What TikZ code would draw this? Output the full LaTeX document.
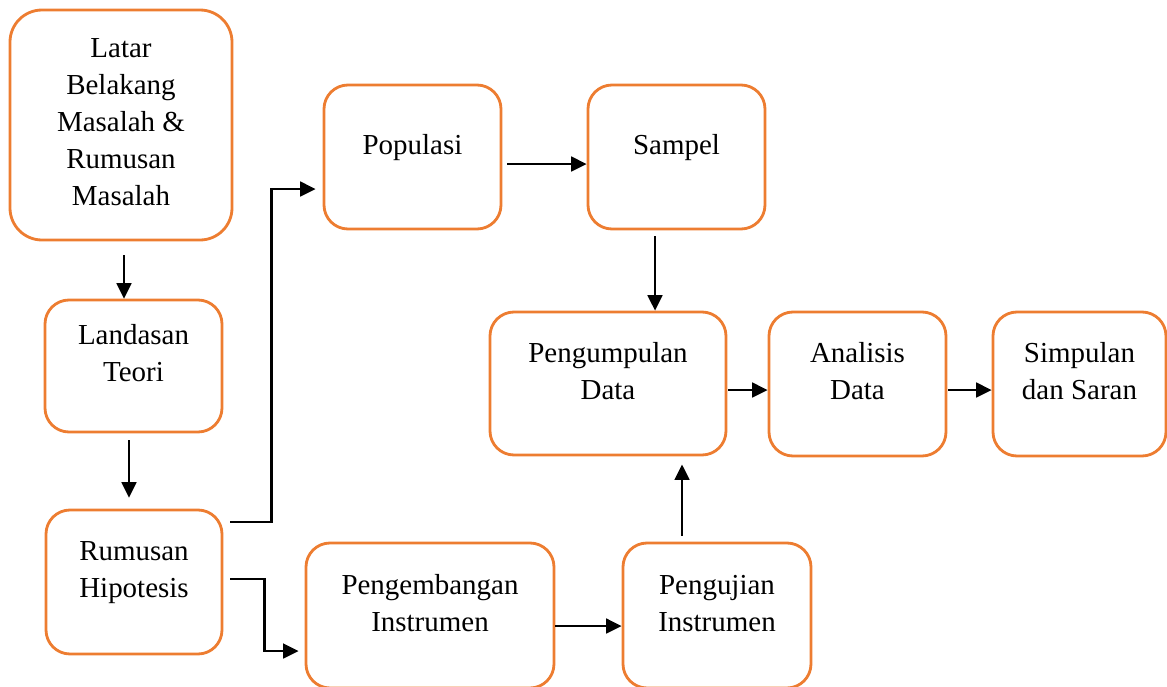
\documentclass[tikz,border=0pt]{standalone}
\usepackage{fontspec}
\setmainfont{Liberation Serif}
\usetikzlibrary{arrows.meta,fit,calc}
\definecolor{boxorange}{RGB}{237,125,49}
\begin{document}
\begin{tikzpicture}[x=0.025cm,y=-0.025cm]
\tikzstyle{roundrect} = [rectangle, rounded corners=0.6cm, draw=boxorange, line width=2pt, inner sep=0pt]
\tikzstyle{boxtext} = [align=center, anchor=north, inner sep=0pt, font=\fontsize{20.6pt}{26.3pt}\selectfont]
\tikzstyle{arrow} = [-{Triangle[length=11pt,width=10.5pt]}, line width=1.6pt]
\useasboundingbox (0,0) rectangle (1167,686);
% boxes
\node (LB)[roundrect, rounded corners=0.8cm, fit={(10,10) (232,240)}] {};
\node (LT)[roundrect, fit={(45,300) (222,432)}] {};
\node (RH)[roundrect, fit={(46,510) (222,654)}] {};
\node (Pop)[roundrect, fit={(324,85) (501,229)}] {};
\node (Smp)[roundrect, fit={(588,85) (765,229)}] {};
\node (PD)[roundrect, fit={(490,312) (726,455)}] {};
\node (AD)[roundrect, fit={(769,312) (946,456)}] {};
\node (SS)[roundrect, fit={(993,312) (1166,456)}] {};
\node (PI)[roundrect, fit={(306,543) (554,688)}] {};
\node (UI)[roundrect, fit={(623,543) (811,688)}] {};
% texts
\node (LBt)[boxtext] at ($(LB.north)+(0,29.5)$) {Latar\\Belakang\\Masalah \&\\Rumusan\\Masalah};
\node (LTt)[boxtext] at ($(LT.north)+(0,26)$) {Landasan\\Teori};
\node (RHt)[boxtext] at ($(RH.north)+(0,33)$) {Rumusan\\Hipotesis};
\node (Popt)[boxtext] at ($(Pop.north)+(0,51)$) {Populasi};
\node (Smpt)[boxtext] at ($(Smp.north)+(0,51)$) {Sampel};
\node (PDt)[boxtext] at ($(PD.north)+(0,32)$) {Pengumpulan\\Data};
\node (ADt)[boxtext] at ($(AD.north)+(0,32)$) {Analisis\\Data};
\node (SSt)[boxtext] at ($(SS.north)+(0,32)$) {Simpulan\\dan Saran};
\node (PIt)[boxtext] at ($(PI.north)+(0,33)$) {Pengembangan\\Instrumen};
\node (UIt)[boxtext] at ($(UI.north)+(0,33)$) {Pengujian\\Instrumen};
% connectors
\draw [arrow] ($(LB.south)+(3,14)$) coordinate (s) -- (s |- LT.north);
\draw [arrow] ($(LT.south)+(-4.5,7)$) coordinate (s) -- ($(s |- RH.north)+(0,-11)$);
\coordinate (e) at ($(Pop.west)+(-7,32)$);
\draw [arrow] ($(RH.east)+(7,-60)$) -| ($(e)+(-44,0)$) -- (e);
\coordinate (e) at ($(PI.west)+(-6,35.5)$);
\draw [arrow] ($(RH.east)+(7,-3)$) -| ($(e)+(-34,0)$) -- (e);
\draw [arrow] ($(Pop.east)+(5,7)$) coordinate (s) -- (s -| Smp.west);
\draw [arrow] ($(Smp.south)+(-21.5,6)$) coordinate (s) -- (s |- PD.north);
\draw [arrow] ($(PD.east)+(1,6.5)$) coordinate (s) -- (s -| AD.west);
\draw [arrow] ($(AD.east)+(1,6)$) coordinate (s) -- (s -| SS.west);
\draw [arrow] ($(PI.east)+(0,10.5)$) coordinate (s) -- (s -| UI.west);
\draw [arrow] ($(UI.north)+(-35,-6)$) coordinate (s) -- ($(s |- PD.south)+(0,8)$);
\end{tikzpicture}
\end{document}
